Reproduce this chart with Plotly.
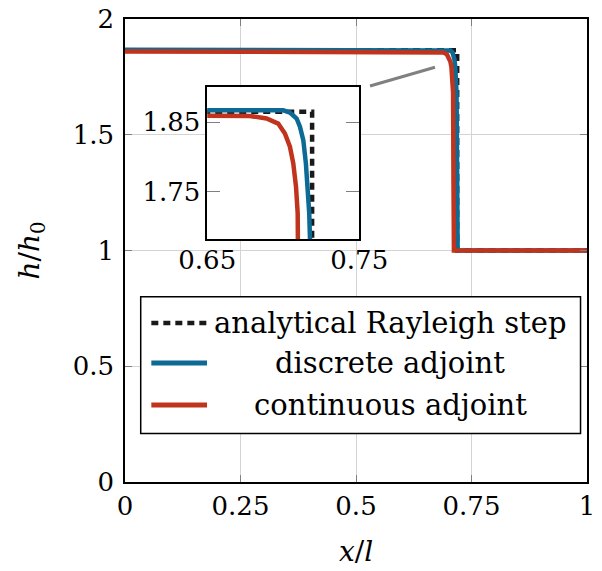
import plotly.graph_objects as go

# ---- data ----
analytic_x = [0.0, 0.719, 0.719, 1.0]
analytic_y = [1.865, 1.865, 1.0, 1.0]

discrete_x = [0.0, 0.700, 0.7044, 0.7088, 0.7110, 0.7132, 0.7149, 0.7160, 0.7171, 0.7176, 0.7190, 0.7200, 1.0]
discrete_y = [1.867, 1.867, 1.8638, 1.8553, 1.8434, 1.8243, 1.791, 1.7576, 1.7196, 1.6824, 1.30, 1.0, 1.0]

continuous_x = [0.0, 0.678, 0.689, 0.6967, 0.7011, 0.7044, 0.7066, 0.7084, 0.7095, 0.7101, 0.7110, 0.7120, 1.0]
continuous_y = [1.860, 1.859, 1.8553, 1.848, 1.8338, 1.8148, 1.791, 1.7576, 1.7196, 1.6824, 1.30, 1.0, 1.0]

series_names = ["analytical Rayleigh step", "discrete adjoint", "continuous adjoint"]
main_xticks = [0, 0.25, 0.5, 0.75, 1]
main_xticklabels = ["0", "0.25", "0.5", "0.75", "1"]
main_yticks = [0, 0.5, 1, 1.5, 2]
main_yticklabels = ["0", "0.5", "1", "1.5", "2"]
inset_xticks = [0.65, 0.75]
inset_yticks = [1.75, 1.85]

BLUE = "#0c6a94"
RED = "#c0341d"
FONT = "DejaVu Serif, Liberation Serif, serif"
FS = 26
DASH = "7px,5px"

fig = go.Figure()
for xa, ya in [("x", "y"), ("x2", "y2")]:
    fig.add_trace(go.Scatter(x=analytic_x, y=analytic_y, mode="lines", name=series_names[0],
                             line=dict(color="#1a1a1a", width=4.5, dash=DASH),
                             xaxis=xa, yaxis=ya, showlegend=False))
    fig.add_trace(go.Scatter(x=discrete_x, y=discrete_y, mode="lines", name=series_names[1],
                             line=dict(color=BLUE, width=4.5),
                             xaxis=xa, yaxis=ya, showlegend=False))
    fig.add_trace(go.Scatter(x=continuous_x, y=continuous_y, mode="lines", name=series_names[2],
                             line=dict(color=RED, width=4.5),
                             xaxis=xa, yaxis=ya, showlegend=False))

axis_common = dict(showline=True, linecolor="black", linewidth=1.5, mirror="ticks",
                   ticks="inside", ticklen=7, tickcolor="#808080", tickwidth=1,
                   zeroline=False, automargin=False,
                   tickfont=dict(family=FONT, size=FS, color="black"))

fig.update_layout(
    width=602, height=571,
    margin=dict(l=125, r=15, t=19, b=89),
    plot_bgcolor="white", paper_bgcolor="white",
    showlegend=False,
    font=dict(family=FONT, size=FS, color="black"),
    xaxis=dict(domain=[0, 1], range=[0, 1], tickvals=main_xticks, ticktext=main_xticklabels,
               showgrid=True, gridcolor="#d4d4d4", gridwidth=1,
               title=dict(text="<i>x</i>/<i>l</i>", font=dict(family=FONT, size=FS + 2), standoff=21),
               ticklabelstandoff=0, **axis_common),
    yaxis=dict(domain=[0, 1], range=[0, 2], tickvals=main_yticks, ticktext=main_yticklabels,
               showgrid=True, gridcolor="#d4d4d4", gridwidth=1,
               title=dict(text="<i>h</i>/<i>h</i><sub>0</sub>", font=dict(family=FONT, size=FS + 2), standoff=25),
               ticklabelstandoff=4, **axis_common),
    xaxis2=dict(domain=[0.178, 0.507], anchor="y2", range=[0.65, 0.75], tickvals=inset_xticks,
                tickformat=".2f", showgrid=False, ticklabelstandoff=-3,
                **{**axis_common, "ticklen": 13}),
    yaxis2=dict(domain=[0.524, 0.8525], anchor="x2", range=[1.682, 1.9], tickvals=inset_yticks,
                tickformat=".2f", showgrid=False, ticklabelstandoff=0,
                **{**axis_common, "ticklen": 13}),
)

# connector line from inset to zoomed region
fig.add_shape(type="line", xref="x", yref="y", x0=0.5303, y0=1.7106, x1=0.671, y1=1.7914,
              line=dict(color="#808080", width=3))

# legend drawn as a boxed, centred key
fig.add_shape(type="rect", xref="x", yref="y", x0=0.034, x1=0.986, y0=0.21, y1=0.80,
              line=dict(color="black", width=1.5), fillcolor="white", layer="above")
row_y = [0.687, 0.514, 0.333]
styles = [dict(color="#1a1a1a", width=4.5, dash=DASH), dict(color=BLUE, width=5), dict(color=RED, width=5)]
for name, yy, st in zip(series_names, row_y, styles):
    fig.add_shape(type="line", xref="x", yref="y", x0=0.057, x1=0.1775, y0=yy, y1=yy, line=st, layer="above")
    fig.add_annotation(x=0.5736, y=yy, xref="x", yref="y", text=name, showarrow=False,
                       xanchor="center", yanchor="middle",
                       font=dict(family=FONT, size=29, color="black"))

fig.write_html("out.html")
